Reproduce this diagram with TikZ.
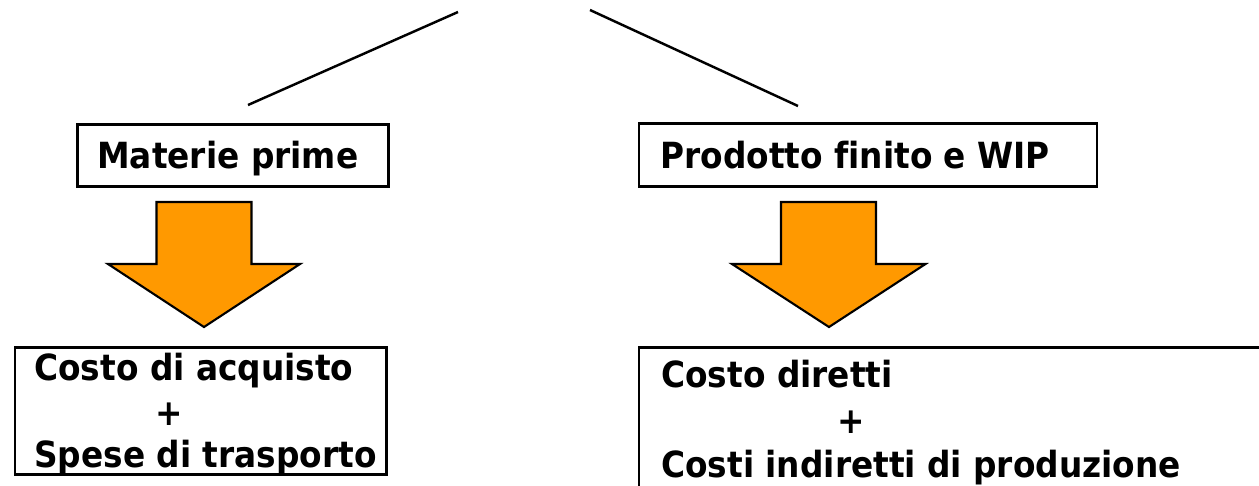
\documentclass[tikz,border=0pt]{standalone}
\usepackage{fontspec}
\setmainfont{DejaVu Sans}[FakeStretch=0.91,Ligatures=NoCommon]
\definecolor{arrorange}{RGB}{255,153,0}
\begin{document}
\begin{tikzpicture}[x=0.02cm,y=-0.02cm,
  box/.style={draw=black,line width=1.6pt,fill=white,rectangle,anchor=north west,inner sep=0pt},
  lbl/.style={anchor=base west,inner sep=0pt,font=\fontsize{20.5}{24}\selectfont\bfseries},
  plus/.style={anchor=center,inner sep=0pt,font=\fontsize{20.5}{24}\selectfont\bfseries},
  conn/.style={draw=black,line width=1.4pt},
  bigarrow/.style={draw=black,line width=1.2pt,fill=arrorange,line join=miter}]
\useasboundingbox (0,0) rectangle (1259,485);
\clip (0,0) rectangle (1259,485);
% connectors from the (off-picture) top
\coordinate (t1) at (458,12);
\coordinate (t2) at (590,10);
\coordinate (e1) at (248,105);
\coordinate (e2) at (798,106);
\draw[conn] (t1) -- (e1);
\draw[conn] (t2) -- (e2);
% top boxes
\node[box,minimum width=311*0.02cm,minimum height=62*0.02cm] (mp) at (76,123) {};
\node[lbl] (mpt) at (97,168) {Materie prime};
\node[box,minimum width=458*0.02cm,minimum height=63*0.02cm] (pf) at (637.5,122) {};
\node[lbl] (pft) at (660,168) {Prodotto finito e WIP};
% arrows
\path[bigarrow] (156.5,202) -- (251.5,202) -- (251.5,264) -- (300,264) -- (204,327) -- (108,264) -- (156.5,264) -- cycle;
\path[bigarrow] (781,202) -- (876,202) -- (876,264) -- (925.5,264) -- (829,327) -- (732,264) -- (781,264) -- cycle;
% bottom boxes
\node[box,minimum width=371.5*0.02cm,minimum height=127*0.02cm] (ca) at (13.5,346) {};
\node[lbl] (cat1) at (34,380) {Costo di acquisto};
\node[plus] (cap) at (169,414) {+};
\node[lbl] (cat2) at (34,467) {Spese di trasporto};
\node[box,minimum width=640*0.02cm,minimum height=160*0.02cm] (cd) at (637.5,346) {};
\node[lbl] (cdt1) at (661,387) {Costo diretti};
\node[plus] (cdp) at (851,422) {+};
\node[lbl] (cdt2) at (661,477) {Costi indiretti di produzione};
\end{tikzpicture}
\end{document}
